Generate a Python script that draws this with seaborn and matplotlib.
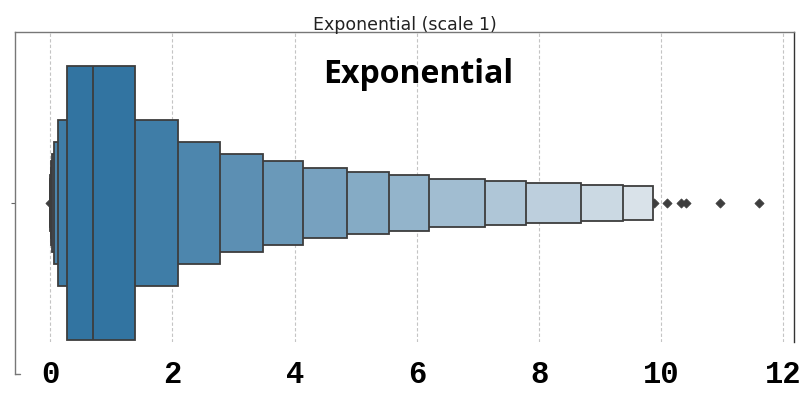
import numpy as np
import pandas as pd
import matplotlib
matplotlib.use("Agg")
import matplotlib.pyplot as plt
import seaborn as sns

# ---- data (letter values) ----
level_lower = [0.278, 0.131, 0.062, 0.031, 0.016, 0.008, 0.004, 0.002, 0.001, 0.0005, 0.0003, 0.0002, 0.0001]
level_upper = [1.381, 2.084, 2.777, 3.475, 4.134, 4.849, 5.546, 6.191, 7.107, 7.783, 8.688, 9.370, 9.866]
median_value = 0.694
outliers = [0.0, 9.88, 10.09, 10.33, 10.41, 10.96, 11.60]
x_ticks = [0, 2, 4, 6, 8, 10, 12]
x_tick_labels = ["0", "2", "4", "6", "8", "10", "12"]
title_text = "Exponential (scale 1)"
inner_label = "Exponential"

# ---- style ----
box_heights = [0.80, 0.485, 0.358, 0.289, 0.243, 0.205, 0.181, 0.161, 0.143, 0.128, 0.117, 0.106, 0.102]
base_color = "#3274a1"
line_color = "#3d3d3d"

sns.set_theme(style="white")
plt.rcParams["font.family"] = ["DejaVu Sans"]

fig = plt.figure(figsize=(8.08, 3.97), dpi=100)
ax = fig.add_axes([15 / 808, 1 - 342 / 397, 779 / 808, 310 / 397])

df = pd.DataFrame({"lower": level_lower, "upper": level_upper, "height": box_heights})
n = len(df)
cmap = sns.light_palette(base_color, as_cmap=True)
colors = cmap(np.linspace(1, 0.12, n))

# draw outermost first so inner boxes sit on top
for i in range(n - 1, -1, -1):
    row = df.iloc[i]
    ax.barh(y=0, width=row["upper"] - row["lower"], left=row["lower"], height=row["height"],
            color=colors[i], edgecolor=line_color, linewidth=1.3, zorder=2 + (n - i) * 0.01)

# median line across innermost box
ax.vlines(median_value, -box_heights[0] / 2, box_heights[0] / 2, color=line_color, linewidth=1.3, zorder=3)

# outliers
sns.scatterplot(x=outliers, y=[0] * len(outliers), marker="D", color=line_color, s=22,
                edgecolor=line_color, linewidth=0.5, ax=ax, zorder=1.5)

ax.set_xlim(-0.578, 12.173)
ax.set_ylim(0.5 - 32 / 342, -0.5)
ax.set_xticks(x_ticks)
ax.set_xticklabels(x_tick_labels, fontfamily="Liberation Mono", fontweight="bold", fontsize=22)
ax.set_yticks([0])
ax.set_yticklabels([""])
ax.tick_params(axis="x", length=0, pad=13, colors="black")
ax.tick_params(axis="y", left=True, length=3, width=0.8, color="#666666")
ax.set_xlabel("")
ax.set_ylabel("")

ax.set_axisbelow(True)
ax.grid(axis="x", color="#c4c4c4", linestyle=(0, (3, 2)), linewidth=0.8)
ax.grid(axis="y", visible=False)

for s in ["top", "left"]:
    ax.spines[s].set_color("#777777")
    ax.spines[s].set_linewidth(1.0)
ax.spines["right"].set_color("#333333")
ax.spines["right"].set_linewidth(1.0)
ax.spines["bottom"].set_visible(False)
ax.spines["left"].set_bounds(-0.5, 0.5)
ax.plot([-0.578, -0.49], [0.5, 0.5], color="#777777", linewidth=1.0, clip_on=False)

ax.set_title(title_text, fontsize=12.5, pad=1.5, color="#222222")
ax.text(0.517, 0.835, inner_label, transform=ax.transAxes, ha="center", va="baseline",
        fontfamily="Open Sans", fontweight="bold", fontsize=23, color="black")

fig.savefig("out.png", dpi=100)
